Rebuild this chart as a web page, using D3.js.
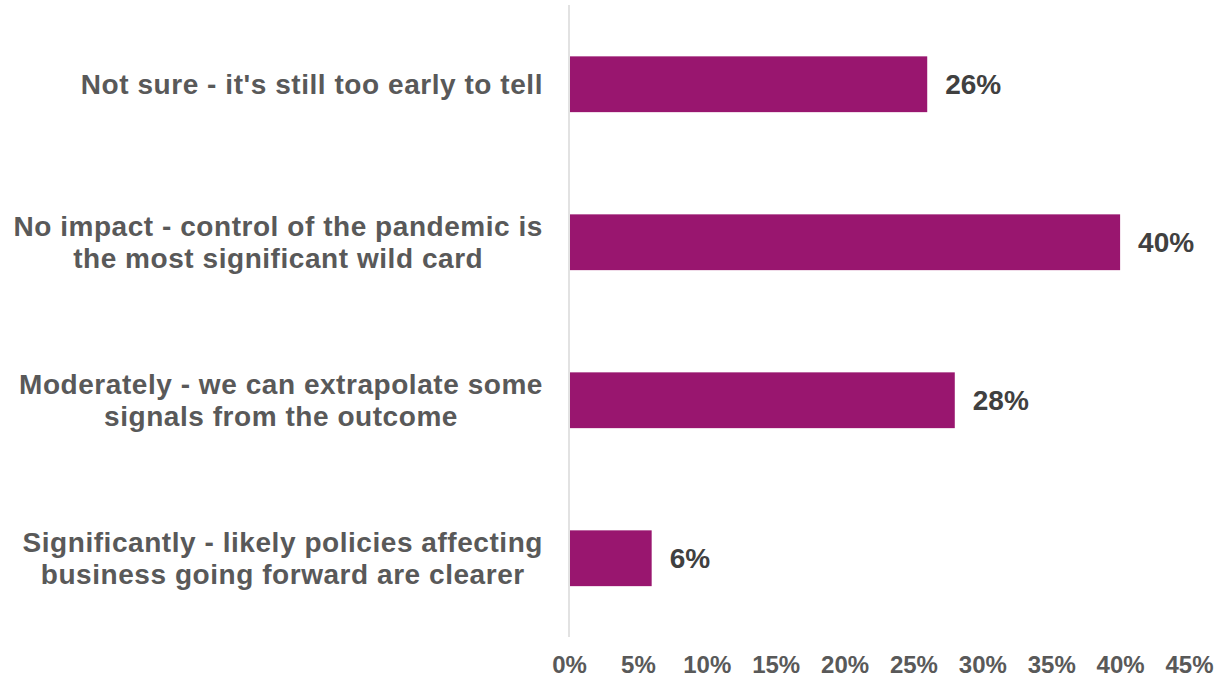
<!DOCTYPE html>
<html>
<head>
<meta charset="utf-8">
<script src="https://cdn.jsdelivr.net/npm/d3@7"></script>
<style>
  html, body { margin: 0; padding: 0; background: #ffffff; }
  svg { display: block; }
  text { font-family: "Liberation Sans", Arial, sans-serif; font-weight: bold; }
</style>
</head>
<body>
<svg id="chart" width="1214" height="677"></svg>
<script>
// Survey responses, top to bottom
const categories = [
  ["Not sure - it's still too early to tell"],
  ["No impact - control of the pandemic is", "the most significant wild card"],
  ["Moderately - we can extrapolate some", "signals from the outcome"],
  ["Significantly - likely policies affecting", "business going forward are clearer"]
];
const values = [26, 40, 28, 6];
const tickValues = [0, 5, 10, 15, 20, 25, 30, 35, 40, 45];
const tickLabels = ["0%", "5%", "10%", "15%", "20%", "25%", "30%", "35%", "40%", "45%"];

const svg = d3.select("#chart");
const margin = { top: 5, left: 569, right: 25, bottom: 40 };
const width = 1214, height = 677;

const x = d3.scaleLinear()
  .domain([0, 45])
  .range([margin.left, width - margin.right]);

const y = d3.scaleBand()
  .domain(d3.range(categories.length))
  .range([margin.top, 637])
  .paddingInner(0.65)
  .paddingOuter(0.325);

// Vertical category axis line
svg.append("line")
  .attr("x1", x(0)).attr("x2", x(0))
  .attr("y1", margin.top).attr("y2", 637)
  .attr("stroke", "#d9d9d9")
  .attr("stroke-width", 1.5);

// Bars
svg.append("g")
  .selectAll("rect")
  .data(values)
  .join("rect")
  .attr("x", x(0) + 1)
  .attr("y", (d, i) => y(i))
  .attr("width", d => x(d) - x(0) - 1)
  .attr("height", y.bandwidth() + 0.5)
  .attr("fill", "#99166f");

// Value labels
svg.append("g")
  .selectAll("text")
  .data(values)
  .join("text")
  .attr("x", d => x(d) + 18)
  .attr("y", (d, i) => y(i) + y.bandwidth() / 2)
  .attr("dy", "0.36em")
  .attr("font-size", 28)
  .attr("fill", "#404040")
  .text(d => d + "%");

// Category labels: each block sits flush against the axis, lines centred within it
const lineH = 32;
const labelRight = 543;
const catG = svg.append("g");
categories.forEach((lines, i) => {
  const cy = y(i) + y.bandwidth() / 2;
  const t = catG.append("text")
    .attr("text-anchor", "middle")
    .attr("font-size", 28)
    .attr("letter-spacing", 0.55)
    .attr("fill", "#595959");
  const spans = lines.map((ln, j) => t.append("tspan")
    .attr("y", cy + (j - (lines.length - 1) / 2) * lineH)
    .attr("dy", "0.35em")
    .text(ln));
  const maxW = d3.max(spans, s => s.node().getComputedTextLength());
  spans.forEach(s => s.attr("x", labelRight - maxW / 2));
});

// Value axis tick labels
const xAxis = d3.axisBottom(x)
  .tickValues(tickValues)
  .tickFormat((d, i) => tickLabels[i])
  .tickSize(0)
  .tickPadding(0);

const axisG = svg.append("g")
  .attr("transform", `translate(0, 656)`)
  .call(xAxis);
axisG.select(".domain").remove();
axisG.selectAll("text")
  .attr("font-size", 24)
  .attr("fill", "#595959")
  .attr("font-family", "'Liberation Sans', Arial, sans-serif")
  .attr("font-weight", "bold");
</script>
</body>
</html>
